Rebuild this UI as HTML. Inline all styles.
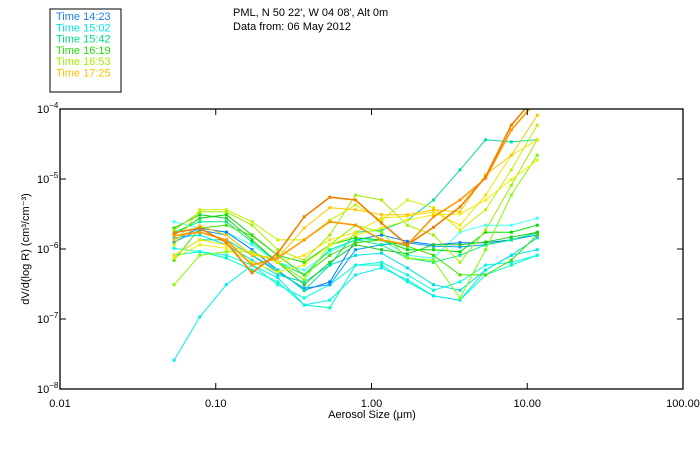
<!DOCTYPE html>
<html><head><meta charset="utf-8"><style>
body{margin:0;background:#fff;}
svg text{font-family:"Liberation Sans",sans-serif;}
</style></head><body>
<svg id="chart" width="700" height="450" xmlns="http://www.w3.org/2000/svg">
<rect width="700" height="450" fill="#fff"/>
<rect x="50" y="9" width="71" height="83" fill="none" stroke="#000" stroke-width="1"/>
<g id="legend"></g>
<text x="233" y="16" font-size="11">PML, N 50 22', W 04 08', Alt 0m</text>
<text x="233" y="30" font-size="11">Data from: 06 May 2012</text>
<defs><clipPath id="pc"><rect x="60" y="109" width="623" height="280"/></clipPath></defs>
<g id="series" clip-path="url(#pc)"></g>
<rect x="60" y="109" width="623" height="280" fill="none" stroke="#000" stroke-width="1.3"/>
<g id="axes"></g>
<text x="372" y="418" font-size="11" text-anchor="middle">Aerosol Size (μm)</text>
<text transform="translate(29,249) rotate(-90)" font-size="11" text-anchor="middle">dV/d(log R) (cm³/cm⁻³)</text>
</svg>
<script>
const legendLabels=["Time 14:23","Time 15:02","Time 15:42","Time 16:19","Time 16:53","Time 17:25"];
const legendColors=["#1a80f0","#00e8e8","#00e080","#20e000","#a0f000","#ffc000"];
const sizes=[0.054,0.079,0.117,0.171,0.25,0.37,0.54,0.79,1.16,1.7,2.5,3.7,5.4,7.9,11.6];
const xTicks=[0.01,0.1,1,10,100];
const xTickLabels=["0.01","0.10","1.00","10.00","100.00"];
const yTicks=[-4,-5,-6,-7,-8];
const seriesColors=["#f08000","#ff9a00","#ffc800","#ffe000","#f0f000","#c8f000","#a0f000","#80ff00","#40e000","#00e000","#20d020","#00f080","#00e0a0","#0080ff","#00a0ff","#00e0e0","#00ffe0","#00f0f0","#00ffc0","#40ffff"];
// log10 of dV/d(log R)
const s1=[-5.77,-5.70,-5.91,-6.34,-6.06,-5.54,-5.26,-5.30,-5.63,-5.94,-5.69,-5.40,-4.97,-4.23,-3.80];
const s2=[-5.81,-5.76,-5.87,-6.23,-6.13,-5.87,-5.61,-5.66,-5.87,-5.94,-5.54,-5.30,-4.99,-4.30,-3.87];
const s3=[-5.87,-5.67,-5.80,-6.09,-6.13,-5.70,-5.41,-5.44,-5.51,-5.51,-5.44,-5.47,-4.94,-4.66,-4.09];
const s4=[-6.09,-5.87,-5.94,-6.06,-6.19,-6.09,-5.87,-5.76,-5.56,-5.53,-5.47,-5.66,-5.23,-4.66,-4.44];
const s5=[-6.13,-5.94,-5.99,-6.19,-6.33,-6.23,-5.94,-5.80,-5.70,-5.59,-5.51,-5.50,-5.30,-5.01,-4.73];
const s6=[-5.94,-5.44,-5.44,-5.61,-5.87,-5.87,-5.59,-5.37,-5.59,-5.30,-5.41,-5.73,-5.44,-4.87,-4.23];
const s7=[-5.73,-5.47,-5.47,-5.66,-6.01,-6.16,-5.80,-5.23,-5.30,-5.66,-5.80,-6.19,-5.73,-5.09,-4.44];
const s8=[-6.51,-6.09,-6.04,-6.04,-6.19,-6.44,-5.94,-5.66,-5.76,-6.13,-6.16,-6.70,-6.01,-5.23,-4.66];
const s9=[-6.16,-5.70,-5.66,-5.81,-6.09,-6.37,-6.09,-5.91,-5.87,-5.96,-6.09,-6.37,-6.37,-6.16,-5.80];
const s10=[-5.80,-5.56,-5.51,-5.80,-6.09,-6.19,-5.94,-5.84,-5.87,-6.01,-6.01,-6.04,-5.76,-5.76,-5.66];
const s11=[-5.70,-5.51,-5.56,-5.87,-6.19,-6.51,-6.19,-5.94,-6.01,-6.07,-5.94,-5.94,-5.90,-5.83,-5.76];
const s12=[-5.76,-5.61,-5.61,-5.90,-6.19,-6.37,-6.01,-5.87,-5.94,-6.13,-6.19,-6.09,-5.94,-5.87,-5.77];
const s13=[-6.09,-5.87,-5.87,-6.09,-6.30,-6.59,-6.23,-5.76,-5.73,-5.59,-5.30,-4.87,-4.44,-4.47,-4.44];
const s14=[-5.87,-5.70,-5.76,-6.01,-6.30,-6.59,-6.47,-5.87,-5.80,-5.89,-5.94,-5.91,-5.91,-5.87,-5.77];
const s15=[-5.90,-5.73,-5.80,-6.09,-6.33,-6.56,-6.51,-6.01,-5.94,-5.91,-5.96,-5.97,-5.94,-5.87,-5.80];
const s16=[-5.84,-5.80,-5.94,-6.16,-6.37,-6.47,-6.23,-6.09,-6.06,-6.27,-6.51,-6.59,-6.30,-6.09,-5.84];
const s17=[-5.99,-6.04,-6.09,-6.23,-6.51,-6.70,-6.51,-6.23,-6.19,-6.37,-6.59,-6.47,-6.23,-6.19,-6.09];
const s18=[-7.59,-6.97,-6.51,-6.23,-6.41,-6.80,-6.73,-6.37,-6.27,-6.44,-6.67,-6.73,-6.30,-6.09,-6.01];
const s19=[-6.09,-6.04,-6.13,-6.30,-6.47,-6.80,-6.84,-6.23,-6.23,-6.47,-6.67,-6.73,-6.37,-6.23,-6.09];
const s20=[-5.61,-5.70,-5.76,-5.94,-6.19,-6.30,-6.04,-5.87,-5.87,-6.09,-6.13,-5.76,-5.66,-5.66,-5.56];
const allSeries=[s1,s2,s3,s4,s5,s6,s7,s8,s9,s10,s11,s12,s13,s14,s15,s16,s17,s18,s19,s20];

const NS="http://www.w3.org/2000/svg";
const L=60,R=683,T=109,B=389;
function xs(v){return L+(Math.log10(v)+2)/4*(R-L);}
function ys(l){return T+(-4-l)/4*(B-T);}
function mk(tag,attrs,parent){const e=document.createElementNS(NS,tag);for(const k in attrs)e.setAttribute(k,attrs[k]);parent.appendChild(e);return e;}

const lg=document.getElementById('legend');
legendLabels.forEach((t,i)=>{
  const e=mk('text',{x:56,y:20+i*11.3,'font-size':11,fill:legendColors[i]},lg);
  
  
  e.textContent=t;
});

const ax=document.getElementById('axes');
xTicks.forEach((v,i)=>{
  const x=xs(v);
  if(i>0&&i<xTicks.length-1){
    const t1=mk('line',{x1:x,x2:x,y1:B,y2:B-6,stroke:'#000'},ax);
    
    
    const t2=mk('line',{x1:x,x2:x,y1:T,y2:T+6,stroke:'#000'},ax);
    
    
  }
  const tx=mk('text',{x:x,y:407,'font-size':11,'text-anchor':'middle'},ax);
  
  
  tx.textContent=xTickLabels[i];
});
yTicks.forEach((l,i)=>{
  const y=ys(l);
  if(i>0&&i<yTicks.length-1){
    const t1=mk('line',{x1:L,x2:L+6,y1:y,y2:y,stroke:'#000'},ax);
    
    
    const t2=mk('line',{x1:R,x2:R-6,y1:y,y2:y,stroke:'#000'},ax);
    
    
  }
  const tx=mk('text',{x:37,y:y+4,'font-size':11},ax);
  
  
  tx.textContent='10';
  const sup=mk('tspan',{dy:-5,'font-size':8},tx);
  sup.textContent='−'+(-l);
});

const sg=document.getElementById('series');
for(let i=allSeries.length-1;i>=0;i--){
  const d=allSeries[i],c=seriesColors[i];
  const g=mk('g',{},sg);
  
  
  const pts=d.map((l,j)=>xs(sizes[j]).toFixed(1)+','+ys(l).toFixed(1)).join(' ');
  mk('polyline',{points:pts,fill:'none',stroke:c,'stroke-width':i<2?1.6:1},g);
  d.forEach((l,j)=>{
    const p=mk('rect',{x:xs(sizes[j])-1.5,y:ys(l)-1.5,width:3,height:3,fill:c},g);
    
    
  });
}
</script>
</body></html>
